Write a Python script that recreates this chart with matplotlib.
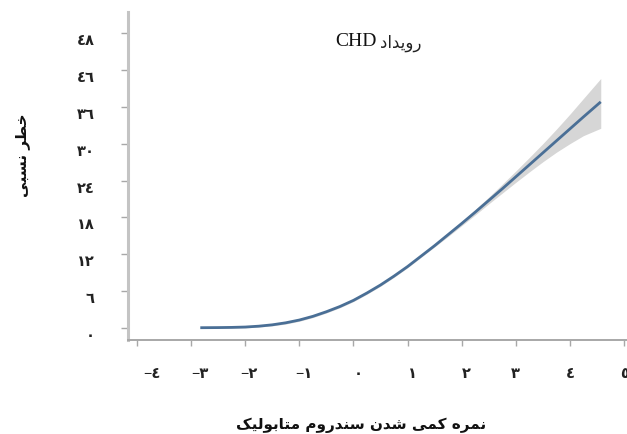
import matplotlib
matplotlib.use("Agg")
import matplotlib.pyplot as plt
from matplotlib.transforms import ScaledTranslation

# ---------------- data ----------------
score = [-2.83, -2.5, -2.25, -2.0, -1.75, -1.5, -1.25, -1.0, -0.75, -0.5, -0.25, 0.0,
         0.25, 0.5, 0.75, 1.0, 1.25, 1.5, 1.75, 2.0, 2.25, 2.5, 2.75, 3.0, 3.25, 3.5,
         3.75, 4.0, 4.25, 4.57]
risk = [0.05, 0.07, 0.1, 0.16, 0.3, 0.52, 0.85, 1.3, 1.9, 2.65, 3.5, 4.5,
        5.7, 7.0, 8.45, 10.0, 11.7, 13.4, 15.2, 17.0, 18.85, 20.75, 22.65, 24.6, 26.55, 28.5,
        30.45, 32.4, 34.35, 36.8]
risk_low = [0.0, 0.0, 0.0, 0.02, 0.15, 0.35, 0.65, 1.1, 1.7, 2.45, 3.3, 4.3,
            5.5, 6.8, 8.25, 9.8, 11.5, 13.2, 14.9, 16.65, 18.4, 20.2, 21.95, 23.7, 25.4, 27.05,
            28.6, 30.0, 31.3, 32.5]
risk_high = [0.1, 0.12, 0.17, 0.25, 0.42, 0.68, 1.05, 1.5, 2.1, 2.85, 3.7, 4.7,
             5.9, 7.2, 8.65, 10.2, 11.9, 13.6, 15.5, 17.35, 19.3, 21.3, 23.4, 25.55, 27.75, 30.0,
             32.35, 34.8, 37.35, 40.6]

xticks = [-4, -3, -2, -1, 0, 1, 2, 3, 4, 5]
xticklabels = ["−٤", "−٣", "−٢", "−١", "٠", "١", "٢", "٣", "٤", "٥"]
yticks = [0, 6, 12, 18, 24, 30, 36, 42, 48]
yticklabels = ["٠", "٦", "١٢", "١٨", "٢٤", "٣٠", "٣٦", "٤٦", "٤٨"]

title_fa = "رویداد"
title_en = "CHD"
ylabel_fa = "خطر نسبی"
xlabel_fa = "نمره کمی شدن سندروم متابولیک"

# ---------------- simple Arabic/Persian shaping ----------------
FORMS = {  # iso, fin, ini, med
    "ا": ("\uFE8D", "\uFE8E", None, None),
    "ب": ("\uFE8F", "\uFE90", "\uFE91", "\uFE92"),
    "ت": ("\uFE95", "\uFE96", "\uFE97", "\uFE98"),
    "خ": ("\uFEA5", "\uFEA6", "\uFEA7", "\uFEA8"),
    "د": ("\uFEA9", "\uFEAA", None, None),
    "ر": ("\uFEAD", "\uFEAE", None, None),
    "س": ("\uFEB1", "\uFEB2", "\uFEB3", "\uFEB4"),
    "ش": ("\uFEB5", "\uFEB6", "\uFEB7", "\uFEB8"),
    "ط": ("\uFEC1", "\uFEC2", "\uFEC3", "\uFEC4"),
    "ل": ("\uFEDD", "\uFEDE", "\uFEDF", "\uFEE0"),
    "م": ("\uFEE1", "\uFEE2", "\uFEE3", "\uFEE4"),
    "ن": ("\uFEE5", "\uFEE6", "\uFEE7", "\uFEE8"),
    "ه": ("\uFEE9", "\uFEEA", "\uFEEB", "\uFEEC"),
    "و": ("\uFEED", "\uFEEE", None, None),
    "ی": ("\uFBFC", "\uFBFD", "\uFBFE", "\uFBFF"),
    "ک": ("\uFB8E", "\uFB8F", "\uFB90", "\uFB91"),
}


def dual(c):
    return c in FORMS and FORMS[c][2] is not None


def shape(text):
    out = []
    n = len(text)
    for i, c in enumerate(text):
        if c not in FORMS:
            out.append(c)
            continue
        prev_c = text[i - 1] if i > 0 else ""
        next_c = text[i + 1] if i + 1 < n else ""
        jp = dual(prev_c)
        jn = dual(c) and next_c in FORMS
        iso, fin, ini, med = FORMS[c]
        if jp and jn:
            out.append(med)
        elif jp:
            out.append(fin)
        elif jn:
            out.append(ini)
        else:
            out.append(iso)
    return "".join(out)[::-1]


FAM = ["Liberation Serif", "DejaVu Sans"]
plt.rcParams["font.family"] = FAM

W, H = 627, 434
fig = plt.figure(figsize=(W / 100, H / 100), dpi=100)
ax = fig.add_axes([128 / W, 1 - 340 / H, (W - 128) / W, (340 - 12) / H])

ax.fill_between(score, risk_low, risk_high, color="#d6d6d6", lw=0, zorder=1)
ax.plot(score, risk, color="#4a6f96", lw=2.0, zorder=2, solid_capstyle="butt")

ax.set_xlim(-4.166, 5.055)
ax.set_ylim(-1.95, 51.42)

for s in ["top", "right"]:
    ax.spines[s].set_visible(False)
ax.spines["left"].set_color("#c4c4c4")
ax.spines["left"].set_linewidth(2.2)
ax.spines["bottom"].set_color("#a8a8a8")
ax.spines["bottom"].set_linewidth(1.4)

ax.set_xticks(xticks)
ax.set_xticklabels(xticklabels, fontsize=10.5, fontweight="bold", color="#222222")
ax.set_yticks(yticks)
ax.set_yticklabels(yticklabels, fontsize=10.5, fontweight="bold", color="#222222")
ax.tick_params(axis="x", direction="out", length=4, width=1, color="#a8a8a8", pad=16)
ax.tick_params(axis="y", direction="out", length=5, width=1, color="#a8a8a8", pad=19)

# label offsets as they appear in the reference (pixels)
x_off = [15, 9, 4, 5, 5, 5, 5, 0, 0, 1]
for lab, dx in zip(ax.get_xticklabels(), x_off):
    lab.set_transform(lab.get_transform() + ScaledTranslation(dx / 100, 0, fig.dpi_scale_trans))
for lab in ax.get_yticklabels():
    lab.set_transform(lab.get_transform() + ScaledTranslation(0, -7 / 100, fig.dpi_scale_trans))

# title
fig.text(377 / W, 1 - 41 / H, title_en, fontsize=14, ha="right", va="center",
         family="Liberation Serif", color="#111111")
fig.text(380 / W, 1 - 43 / H, shape(title_fa), fontsize=12, ha="left", va="center",
         family="DejaVu Sans", color="#222222")

fig.text(23 / W, 1 - 155 / H, shape(ylabel_fa), fontsize=11, fontweight="bold", rotation=90,
         ha="center", va="center", family="DejaVu Sans", color="#111111")
fig.text(361 / W, 1 - 425 / H, shape(xlabel_fa), fontsize=11, fontweight="bold",
         ha="center", va="center", family="DejaVu Sans", color="#111111")

fig.savefig("out.png", dpi=100, facecolor="white")
